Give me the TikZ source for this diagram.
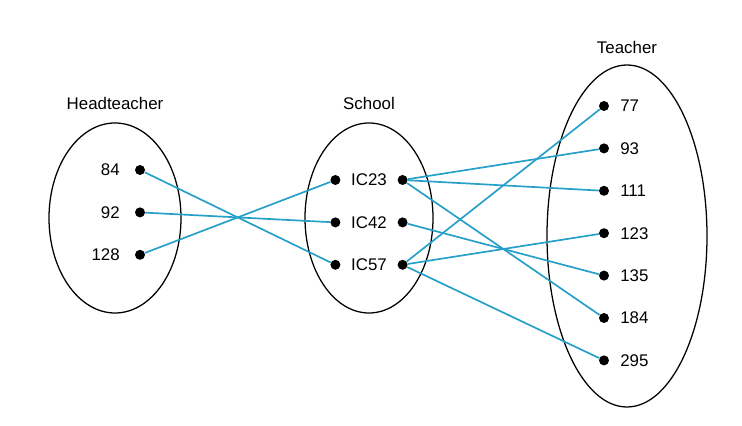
\documentclass[tikz,border=0pt]{standalone}
\usepackage{fontspec}
\setmainfont{Liberation Sans}
\usetikzlibrary{positioning,shapes.geometric}
\definecolor{linkblue}{RGB}{38,160,200}

\begin{document}
\begin{tikzpicture}[node distance=1.06cm,
    dot/.style={circle,fill=black,inner sep=0pt,minimum size=0.25cm},
    set/.style={ellipse,draw,line width=0.9pt,inner sep=0pt},
    link/.style={linkblue,line width=1.2pt},
    every node/.append style={font=\fontsize{12}{14}\selectfont}]
  \useasboundingbox (0,0) rectangle (18.55,10.65);

  % the three sets
  \node[set,minimum width=3.3cm,minimum height=4.75cm] (head) at (2.875,5.2) {};
  \node[set,minimum width=3.2cm,minimum height=4.75cm] (school) at (9.225,5.2) {};
  \node[set,minimum width=4cm,minimum height=8.55cm] (teacher) at (15.675,4.75) {};

  \node[above=0.2cm of head] (head_t) {Headteacher};
  \node[above=0.2cm of school] (school_t) {School};
  \node[above=0.15cm of teacher] (teacher_t) {Teacher};

  %%%%

  \node[dot] (h84) at (3.5,6.4) {};
  \node[dot,below of=h84] (h92) {};
  \node[dot,below of=h92] (h128) {};
  \node[left=0.25cm of h84] {84};
  \node[left=0.25cm of h92] {92};
  \node[left=0.25cm of h128] {128};

  %%%%

  \node[] (s23) at (9.225,6.15) {IC23};
  \node[below of=s23] (s42) {IC42};
  \node[below of=s42] (s57) {IC57};
  \node[dot,left of=s23,node distance=0.84cm] (s23l) {};
  \node[dot,right of=s23,node distance=0.84cm] (s23r) {};
  \node[dot,left of=s42,node distance=0.84cm] (s42l) {};
  \node[dot,right of=s42,node distance=0.84cm] (s42r) {};
  \node[dot,left of=s57,node distance=0.84cm] (s57l) {};
  \node[dot,right of=s57,node distance=0.84cm] (s57r) {};

  %%%%

  \node[dot] (t77) at (15.1,8.0) {};
  \node[dot,below of=t77] (t93) {};
  \node[dot,below of=t93] (t111) {};
  \node[dot,below of=t111] (t123) {};
  \node[dot,below of=t123] (t135) {};
  \node[dot,below of=t135] (t184) {};
  \node[dot,below of=t184] (t295) {};
  \node[right=0.15cm of t77] {77};
  \node[right=0.15cm of t93] {93};
  \node[right=0.15cm of t111] {111};
  \node[right=0.15cm of t123] {123};
  \node[right=0.15cm of t135] {135};
  \node[right=0.15cm of t184] {184};
  \node[right=0.15cm of t295] {295};

  %%%%

  \draw[link] (h84) -- (s57l);
  \draw[link] (h92) -- (s42l);
  \draw[link] (h128) -- (s23l);

  \draw[link] (s23r) -- (t93);
  \draw[link] (s23r) -- (t111);
  \draw[link] (s23r) -- (t184);
  \draw[link] (s42r) -- (t135);
  \draw[link] (s57r) -- (t77);
  \draw[link] (s57r) -- (t123);
  \draw[link] (s57r) -- (t295);
\end{tikzpicture}
\end{document}
